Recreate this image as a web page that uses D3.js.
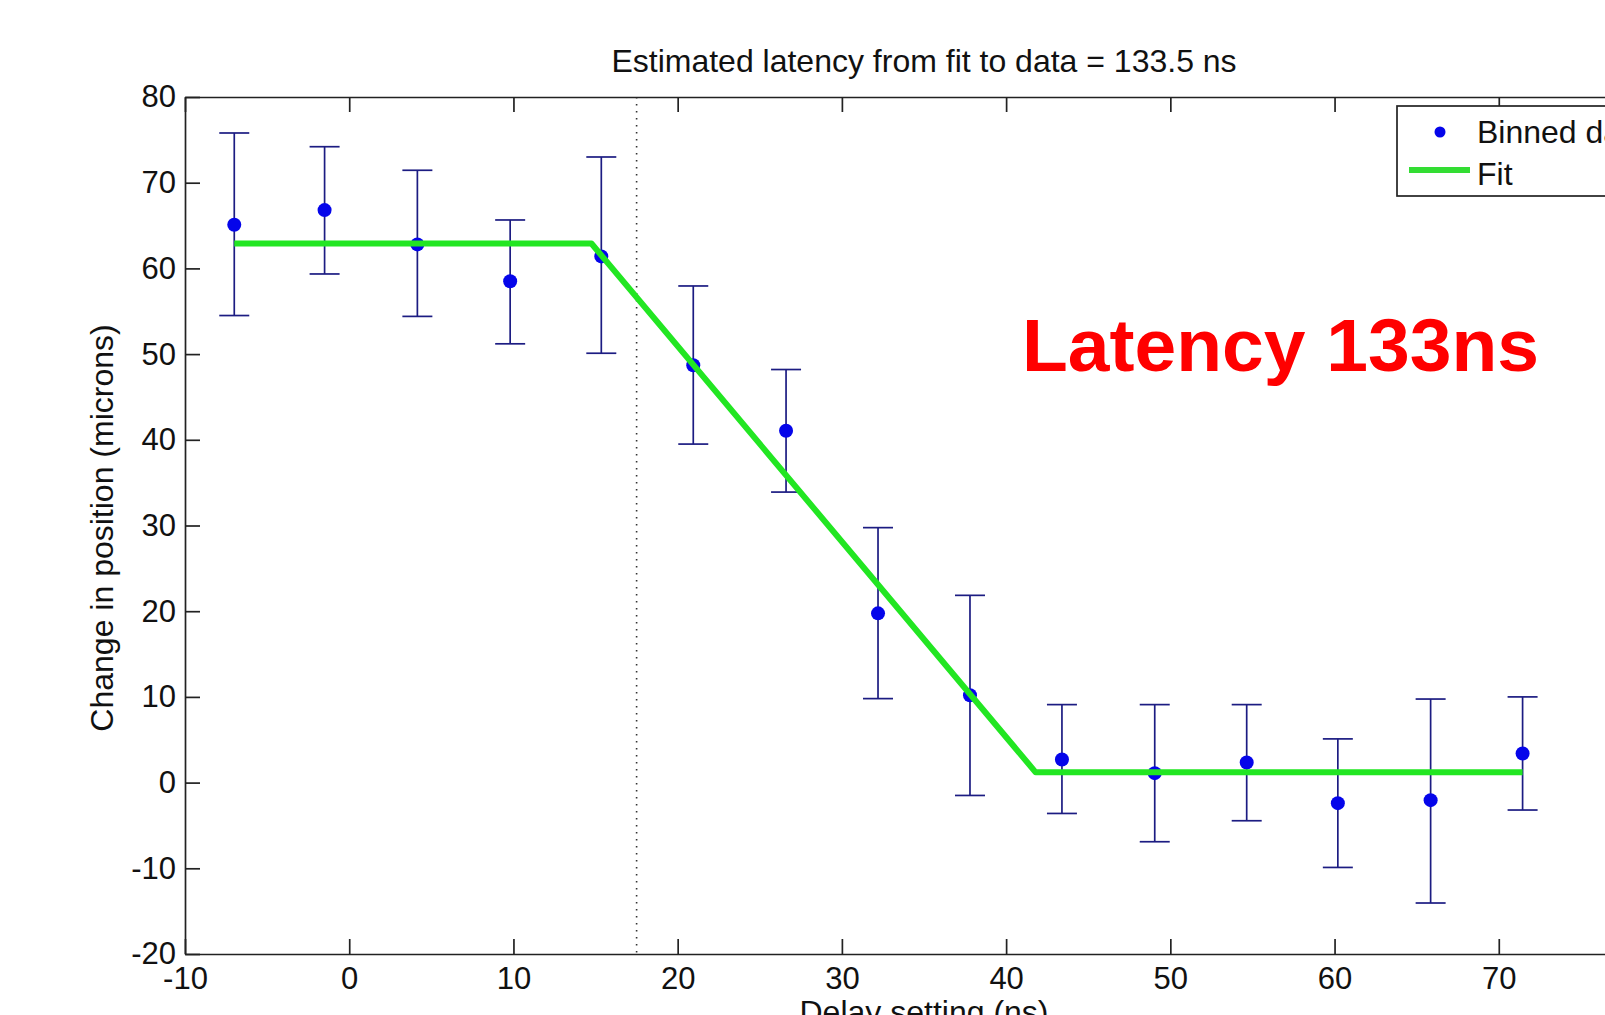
<!DOCTYPE html>
<html>
<head>
<meta charset="utf-8">
<script src="https://cdn.jsdelivr.net/npm/d3@7"></script>
<style>
  body { margin: 0; background: #fff; overflow: hidden; }
  svg { display: block; font-family: "Liberation Sans", Arial, sans-serif; }
</style>
</head>
<body>
<div id="chart"></div>
<script>
// binned data
var delay = [-7.0, -1.5, 4.15, 9.8, 15.35, 20.95, 26.6, 32.2, 37.8, 43.4, 49.05, 54.65, 60.2, 65.85, 71.45];
var shift = [65.1, 66.8, 62.8, 58.5, 61.4, 48.7, 41.05, 19.75, 10.2, 2.7, 1.1, 2.35, -2.4, -2.05, 3.4];
var errTop = [75.8, 74.2, 71.45, 65.65, 73.0, 57.95, 48.2, 29.75, 21.85, 9.1, 9.1, 9.1, 5.1, 9.75, 10.0];
var errBottom = [54.5, 59.35, 54.4, 51.2, 50.1, 39.5, 33.9, 9.8, -1.5, -3.6, -6.9, -4.45, -9.9, -14.05, -3.2];

// piecewise fit
var fitX = [-7.0, 14.75, 41.8, 71.45];
var fitY = [62.9, 62.9, 1.2, 1.2];

var latencyMarker = 17.5;
var xTicks = [-10, 0, 10, 20, 30, 40, 50, 60, 70, 80];
var yTicks = [-20, -10, 0, 10, 20, 30, 40, 50, 60, 70, 80];

var width = 1605, height = 1015;
var plotLeft = 185, plotRight = 1663, plotTop = 97, plotBottom = 954;

var svg = d3.select("#chart")
  .append("svg")
  .attr("width", width)
  .attr("height", height);

var x = d3.scaleLinear().domain([-10, 80]).range([plotLeft, plotRight]);
var y = d3.scaleLinear().domain([-20, 80]).range([plotBottom, plotTop]);

var axisColor = "#222";
var plainNum = function (d) { return String(d); };

// dotted marker line
svg.append("line")
  .attr("x1", x(latencyMarker)).attr("x2", x(latencyMarker))
  .attr("y1", plotTop).attr("y2", plotBottom)
  .attr("stroke", "#333")
  .attr("stroke-width", 1.6)
  .attr("stroke-dasharray", "1.6,5.4");

// error bars
var bars = svg.selectAll(".err")
  .data(delay.map(function (d, i) { return i; }))
  .enter().append("g")
  .attr("class", "err")
  .attr("stroke", "#1c1c82")
  .attr("stroke-width", 1.7);

bars.append("line")
  .attr("x1", function (i) { return x(delay[i]); })
  .attr("x2", function (i) { return x(delay[i]); })
  .attr("y1", function (i) { return y(errTop[i]); })
  .attr("y2", function (i) { return y(errBottom[i]); });
bars.append("line")
  .attr("x1", function (i) { return x(delay[i]) - 15; })
  .attr("x2", function (i) { return x(delay[i]) + 15; })
  .attr("y1", function (i) { return y(errTop[i]); })
  .attr("y2", function (i) { return y(errTop[i]); });
bars.append("line")
  .attr("x1", function (i) { return x(delay[i]) - 15; })
  .attr("x2", function (i) { return x(delay[i]) + 15; })
  .attr("y1", function (i) { return y(errBottom[i]); })
  .attr("y2", function (i) { return y(errBottom[i]); });

// points
svg.selectAll(".pt")
  .data(delay.map(function (d, i) { return i; }))
  .enter().append("circle")
  .attr("class", "pt")
  .attr("cx", function (i) { return x(delay[i]); })
  .attr("cy", function (i) { return y(shift[i]); })
  .attr("r", 7)
  .attr("fill", "#0505ea");

// fit line
var line = d3.line()
  .x(function (d) { return x(d[0]); })
  .y(function (d) { return y(d[1]); });
svg.append("path")
  .datum(fitX.map(function (d, i) { return [d, fitY[i]]; }))
  .attr("d", line)
  .attr("fill", "none")
  .attr("stroke", "#22e622")
  .attr("stroke-width", 6)
  .attr("stroke-linejoin", "round");

// axes (ticks pointing inward, matlab box style)
function styleAxis(g) {
  g.attr("color", axisColor)
    .attr("font-family", "Liberation Sans, Arial, sans-serif")
    .attr("font-size", 31);
  g.selectAll("path, line").attr("stroke-width", 1.7);
  g.selectAll("text").attr("fill", "#111");
}

svg.append("g")
  .attr("transform", "translate(0," + plotBottom + ")")
  .call(d3.axisBottom(x).tickValues(xTicks).tickSize(-15).tickSizeOuter(0).tickPadding(13).tickFormat(plainNum))
  .call(styleAxis);

svg.append("g")
  .attr("transform", "translate(0," + plotTop + ")")
  .call(d3.axisTop(x).tickValues(xTicks).tickSize(-15).tickSizeOuter(0).tickFormat(""))
  .call(styleAxis);

svg.append("g")
  .attr("transform", "translate(" + plotLeft + ",0)")
  .call(d3.axisLeft(y).tickValues(yTicks).tickSize(-15).tickSizeOuter(0).tickPadding(9).tickFormat(plainNum))
  .call(styleAxis);

svg.append("g")
  .attr("transform", "translate(" + plotRight + ",0)")
  .call(d3.axisRight(y).tickValues(yTicks).tickSize(-15).tickSizeOuter(0).tickFormat(""))
  .call(styleAxis);

// title and labels
svg.append("text")
  .attr("x", (plotLeft + plotRight) / 2)
  .attr("y", 72)
  .attr("text-anchor", "middle")
  .attr("font-size", 32)
  .attr("fill", "#111")
  .text("Estimated latency from fit to data = 133.5 ns");

svg.append("text")
  .attr("transform", "translate(113,528) rotate(-90)")
  .attr("text-anchor", "middle")
  .attr("font-size", 32)
  .attr("fill", "#111")
  .text("Change in position (microns)");

svg.append("text")
  .attr("x", (plotLeft + plotRight) / 2)
  .attr("y", 1023)
  .attr("text-anchor", "middle")
  .attr("font-size", 32)
  .attr("fill", "#111")
  .text("Delay setting (ns)");

// legend
var legend = svg.append("g").attr("transform", "translate(1397,106)");
legend.append("rect")
  .attr("width", 320).attr("height", 90)
  .attr("fill", "#fff")
  .attr("stroke", axisColor)
  .attr("stroke-width", 1.7);
legend.append("circle")
  .attr("cx", 43).attr("cy", 26).attr("r", 5.5)
  .attr("fill", "#0505ea");
legend.append("text")
  .attr("x", 80).attr("y", 37)
  .attr("font-size", 32).attr("fill", "#111")
  .text("Binned data");
legend.append("line")
  .attr("x1", 12).attr("x2", 73)
  .attr("y1", 64).attr("y2", 64)
  .attr("stroke", "#33dd33").attr("stroke-width", 6);
legend.append("text")
  .attr("x", 80).attr("y", 79)
  .attr("font-size", 32).attr("fill", "#111")
  .text("Fit");

// annotation
svg.append("text")
  .attr("x", 1022)
  .attr("y", 371)
  .attr("font-size", 75)
  .attr("font-weight", "bold")
  .attr("fill", "#ff0000")
  .text("Latency 133ns");
</script>
</body>
</html>
